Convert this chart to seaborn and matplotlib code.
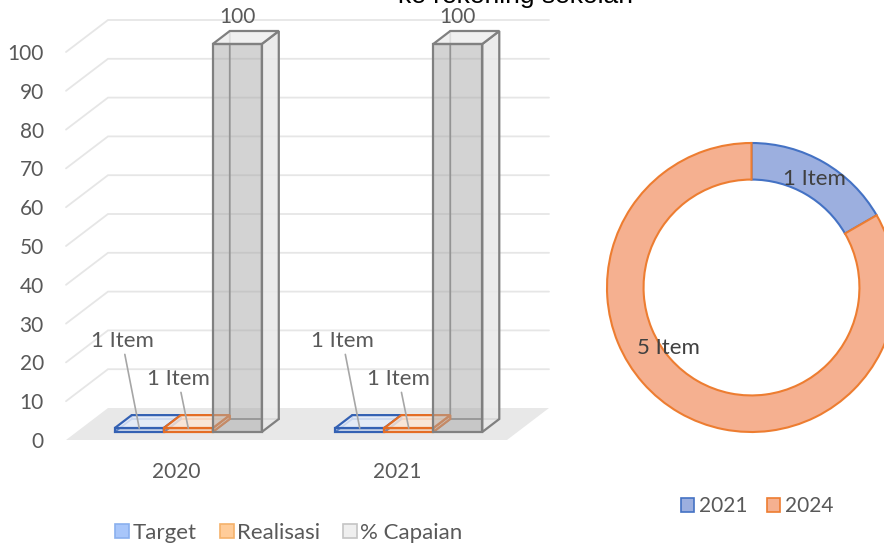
import matplotlib
matplotlib.use('Agg')
import numpy as np
import pandas as pd
import matplotlib.pyplot as plt
import seaborn as sns
from matplotlib.patches import Polygon, Patch
from matplotlib.transforms import Affine2D
from matplotlib.colors import to_rgba

# --- data ---
years = ['2020', '2021']
series = ['Target', 'Realisasi', '% Capaian']
target = [1, 1]
realisasi = [1, 1]
capaian = [100, 100]
target_labels = ['1 Item', '1 Item']
realisasi_labels = ['1 Item', '1 Item']
capaian_labels = ['100', '100']
yticks = list(range(0, 101, 10))

donut_years = ['2021', '2024']
donut_items = [1, 5]
donut_labels = ['1 Item', '5 Item']

df = pd.DataFrame({
    'year': years * 3,
    'series': [s for s in series for _ in years],
    'value': target + realisasi + capaian,
})
labels = {'Target': target_labels, 'Realisasi': realisasi_labels, '% Capaian': capaian_labels}

# --- style ---
sns.set_style('white')
plt.rcParams['font.family'] = ['Lato', 'DejaVu Sans']
TXT = '#595959'

front_fill = {'Target': '#A9C4F2', 'Realisasi': '#F8C69C', '% Capaian': '#A8A8A8'}
front_alpha = {'Target': 0.35, 'Realisasi': 0.35, '% Capaian': 0.5}
top_fill = {'Target': '#E4ECFA', 'Realisasi': '#FCE6D6', '% Capaian': '#EEEEEE'}
side_fill = {'Target': '#D6E2F7', 'Realisasi': '#FAD9C0', '% Capaian': '#E8E8E8'}
edge = {'Target': '#3461B3', 'Realisasi': '#E46D24', '% Capaian': '#808080'}
legend_face = {'Target': '#A8C6FA', 'Realisasi': '#FFCC99', '% Capaian': '#EFEFEF'}
legend_edge = {'Target': '#8AB0EE', 'Realisasi': '#F5B26B', '% Capaian': '#C4C4C4'}

W, H, DPI = 884, 546, 100
fig = plt.figure(figsize=(W / DPI, H / DPI), dpi=DPI)


def frac(x0, y0, x1, y1):
    # pixel box (top-left origin) -> figure fraction rect
    return [x0 / W, 1 - y1 / H, (x1 - x0) / W, (y1 - y0) / H]


# --- 3D-looking clustered bars ---
ax = fig.add_axes(frac(66, 52, 507, 440))
sns.barplot(data=df, x='year', y='value', hue='series', order=years, hue_order=series,
            palette=front_fill, saturation=1, width=0.667, errorbar=None,
            legend=False, ax=ax)
ax.set_xlim(-0.5, 1.5)
ax.set_ylim(0, 100)

sx = 441 / 2.0      # px per category
sy = 388 / 100.0    # px per unit
FDX, FDY = 42 / sx, 32 / sy   # floor depth
BX, BY = 12 / sx, 8 / sy      # bar front offset from floor front
DDX, DDY = 17 / sx, 13 / sy   # bar depth

# floor and wall gridlines
ax.add_patch(Polygon([(-0.5, 0), (1.5, 0), (1.5 + FDX, FDY), (-0.5 + FDX, FDY)],
                     closed=True, facecolor='#E8E8E8', edgecolor='none', zorder=1, clip_on=False))
for v in yticks[1:]:
    ax.plot([-0.5, -0.5 + FDX, 1.5 + FDX], [v, v + FDY, v + FDY], color='#E6E6E6',
            lw=1.3, zorder=1.5, clip_on=False, solid_joinstyle='miter')

bar_tr = Affine2D().translate(BX, BY) + ax.transData
lw = 1.6
for container, name in zip(ax.containers, series):
    for i, rect in enumerate(container):
        x, w, h = rect.get_x(), rect.get_width(), rect.get_height()
        rect.set_transform(bar_tr)
        rect.set_clip_on(False)
        rect.set_facecolor(to_rgba(front_fill[name], front_alpha[name]))
        rect.set_edgecolor(edge[name])
        rect.set_linewidth(lw)
        rect.set_zorder(5)
        # hidden back edges
        ax.plot([x, x + DDX, x + DDX], [0, DDY, h + DDY], transform=bar_tr,
                color=edge[name], lw=lw * 0.8, zorder=3.5, clip_on=False)
        ax.plot([x + DDX, x + w + DDX], [DDY, DDY], transform=bar_tr,
                color=edge[name], lw=lw * 0.8, zorder=3.5, clip_on=False)
        side = Polygon([(x + w, 0), (x + w + DDX, DDY), (x + w + DDX, h + DDY), (x + w, h)],
                       closed=True, transform=bar_tr, facecolor=to_rgba(side_fill[name], 0.85),
                       edgecolor=edge[name], lw=lw, zorder=4, clip_on=False)
        top = Polygon([(x, h), (x + w, h), (x + w + DDX, h + DDY), (x + DDX, h + DDY)],
                      closed=True, transform=bar_tr, facecolor=to_rgba(top_fill[name], 0.85),
                      edgecolor=edge[name], lw=lw, zorder=4, clip_on=False)
        ax.add_patch(side)
        ax.add_patch(top)

        lab = labels[name][i]
        if name == '% Capaian':
            ax.annotate(lab, xy=(x + w / 2, h), xycoords=bar_tr, xytext=(0, 27),
                        textcoords='offset pixels', ha='center', va='center',
                        fontsize=15, color=TXT, zorder=7, annotation_clip=False)
        else:
            off = (-17, 87) if name == 'Target' else (-10, 49)
            ax.annotate(lab, xy=(x + w / 2, h), xycoords=bar_tr, xytext=off,
                        textcoords='offset pixels', ha='center', va='center',
                        fontsize=16, color=TXT, zorder=7, annotation_clip=False,
                        arrowprops=dict(arrowstyle='-', color='#A6A6A6', lw=1.2,
                                        shrinkA=0, shrinkB=0))

ax.set_yticks(yticks)
ax.set_xlabel('')
ax.set_ylabel('')
ax.tick_params(axis='both', length=0, labelsize=15, labelcolor=TXT)
ax.tick_params(axis='y', pad=16)
ax.tick_params(axis='x', pad=16)
sns.despine(ax=ax, left=True, bottom=True)
ax.patch.set_alpha(0)

fig.legend(handles=[Patch(facecolor=legend_face[s], edgecolor=legend_edge[s], lw=1.2) for s in series],
           labels=series, loc='center', bbox_to_anchor=(289 / W, 1 - 533 / H), ncol=3,
           frameon=False, fontsize=16, labelcolor=TXT, handlelength=0.62, handleheight=0.62,
           handletextpad=0.15, columnspacing=1.05)

# --- donut ---
ax2 = fig.add_axes(frac(601.5, 137.5, 901.5, 437.5))
donut_face = ['#9CAFDF', '#F5B090']
donut_edge = ['#4472C4', '#ED7D31']
wedges, _ = ax2.pie(donut_items, colors=donut_face, startangle=90, counterclock=False,
                    radius=1, wedgeprops=dict(width=0.253, linewidth=1.5))
for wdg, ec in zip(wedges, donut_edge):
    wdg.set_edgecolor(ec)
lim = 150 / 144.5
ax2.set_xlim(-lim, lim)
ax2.set_ylim(-lim, lim)
ax2.axis('off')

label_place = [(60, 0.865), (216, 0.713)]   # angle (deg), radius
for lab, (ang, r) in zip(donut_labels, label_place):
    ax2.text(r * np.cos(np.radians(ang)), r * np.sin(np.radians(ang)), lab,
             ha='center', va='center', fontsize=16, color='#404040')

fig.legend(handles=[Patch(facecolor=f, edgecolor=e, lw=1.2) for f, e in zip(donut_face, donut_edge)],
           labels=donut_years, loc='center', bbox_to_anchor=(757 / W, 1 - 506 / H), ncol=2,
           frameon=False, fontsize=15, labelcolor=TXT, handlelength=0.65, handleheight=0.65,
           handletextpad=0.2, columnspacing=0.95)

# title line, cut off at the top edge as in the source image
fig.text(515 / W, 1 - 3 / H, 'ke rekening sekolah', ha='center', va='baseline',
         fontsize=19, family=['Liberation Sans', 'DejaVu Sans'], color='black')

fig.savefig('out.png', dpi=DPI)
